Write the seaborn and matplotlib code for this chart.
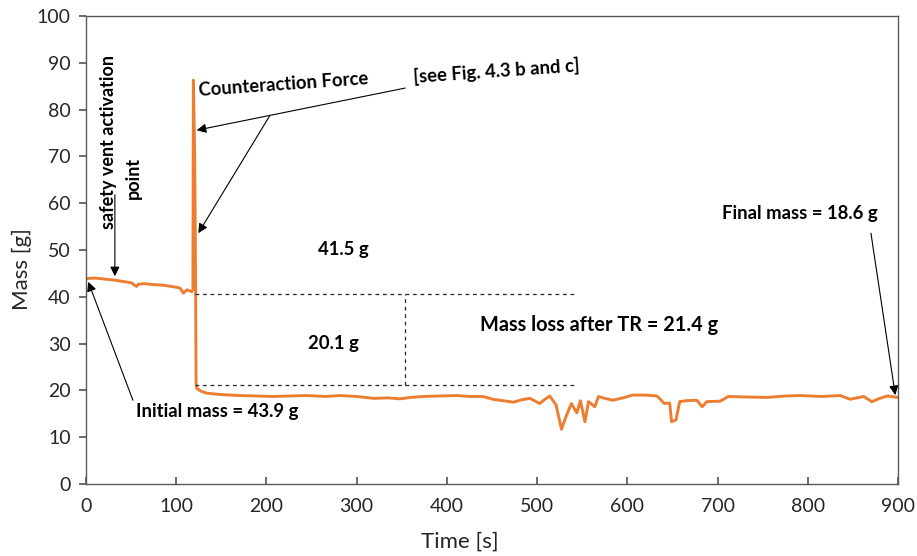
import matplotlib
matplotlib.use("Agg")
import matplotlib.pyplot as plt
import seaborn as sns
import pandas as pd

time_s = [0, 10, 20, 30, 40, 50, 56, 58, 65, 75, 85, 95, 104, 108, 112, 117, 118.5,
          119, 120.5, 121.5, 122, 122.7, 128, 134, 150, 171, 190, 208, 225, 245, 265,
          282, 300, 319, 335, 348, 360, 374, 390, 411, 425, 440, 451, 462, 474, 483,
          492, 503, 508, 514, 521, 527, 532, 538, 544, 548, 553, 557, 564, 568, 575,
          584, 595, 606, 620, 633, 641, 647, 649, 654, 658, 665, 677, 683, 688, 703,
          712, 730, 755, 775, 792, 815, 836, 847, 862, 871, 880, 888, 900]
mass_g = [43.9, 44.0, 43.8, 43.6, 43.3, 43.0, 42.2, 42.7, 42.8, 42.6, 42.5, 42.2, 41.9,
          40.8, 41.5, 41.1, 41.5,
          86.3, 70.0, 42.0, 21.5, 20.4, 19.8, 19.4, 19.1, 18.9, 18.8, 18.7, 18.8, 18.9, 18.7,
          18.9, 18.7, 18.3, 18.4, 18.2, 18.5, 18.7, 18.8, 18.9, 18.7, 18.7, 18.1, 17.8, 17.5, 18.0,
          18.3, 17.2, 18.0, 18.8, 16.9, 11.7, 14.4, 17.2, 15.2, 17.8, 13.3, 17.6, 16.5, 18.7, 18.3,
          17.9, 18.4, 19.0, 19.0, 18.8, 17.2, 17.3, 13.3, 13.7, 17.6, 17.8, 17.9, 16.5, 17.6, 17.7,
          18.7, 18.6, 18.5, 18.8, 18.9, 18.7, 18.9, 18.1, 18.7, 17.6, 18.3, 18.8, 18.5]

df = pd.DataFrame({"Time [s]": time_s, "Mass [g]": mass_g})

sns.set_theme(style="white")
plt.rcParams['font.family'] = ['Lato', 'DejaVu Sans']

fig = plt.figure(figsize=(9.17, 5.56), dpi=100)
ax = fig.add_axes([86 / 917, 1 - 484 / 556, (898 - 86) / 917, (484 - 16) / 556])

sns.lineplot(data=df, x="Time [s]", y="Mass [g]", ax=ax, color="#ED7D31",
             linewidth=2.1, sort=False, estimator=None)

ax.set_xlim(0, 900)
ax.set_ylim(0, 100)
ax.set_xticks(range(0, 901, 100))
ax.set_yticks(range(0, 101, 10))
for s in ax.spines.values():
    s.set_color("#595959")
    s.set_linewidth(1.0)
ax.tick_params(axis="x", direction="in", length=5, color="#595959",
               labelsize=14, labelcolor="#262626", pad=10, bottom=True)
ax.tick_params(axis="y", direction="out", length=5, color="#595959",
               labelsize=14, labelcolor="#262626", pad=6, left=True)
ax.set_xlabel("Time [s]", fontsize=16, color="#262626")
ax.set_ylabel("Mass [g]", fontsize=16, color="#262626")
ax.xaxis.set_label_coords(0.46, -0.102)
ax.yaxis.set_label_coords(-0.066, 0.46)

# dashed reference lines
ax.plot([121, 542], [40.7, 40.7], ls=(0, (3, 3)), color="#262626", lw=0.9)
ax.plot([121, 544], [21.15, 21.15], ls=(0, (3, 3)), color="#262626", lw=0.9)
ax.plot([354, 354], [21.15, 40.7], ls=(0, (3, 3)), color="#262626", lw=0.9)

bold = dict(fontsize=13.3, fontweight="bold", color="black")
arrow = dict(arrowstyle="-|>", color="black", lw=0.8, mutation_scale=14, shrinkA=0, shrinkB=0)

ax.text(285, 50, "41.5 g", ha="center", va="center", **bold)
ax.text(274, 30.1, "20.1 g", ha="center", va="center", **bold)
ax.text(569, 34, "Mass loss after TR = 21.4 g", ha="center", va="center",
        fontsize=14.3, fontweight="bold", color="black")
ax.text(791, 57.9, "Final mass = 18.6 g", ha="center", va="center", **bold)
ax.text(219, 85.3, "Counteraction Force", ha="center", va="center", rotation=4, **bold)
ax.text(455, 88.3, "[see Fig. 4.3 b and c]", ha="center", va="center", rotation=4, **bold)
ax.text(24.4, 73.1, "safety vent activation", ha="center", va="center",
        rotation=90, fontsize=13, fontweight="bold", color="black")
ax.text(52, 65.4, "point", ha="center", va="center",
        rotation=90, fontsize=13, fontweight="bold", color="black")
ax.text(145, 15.4, "Initial mass = 43.9 g", ha="center", va="center", **bold)

ax.annotate("", xy=(32, 44.4), xytext=(32, 61.8), arrowprops=arrow)
ax.annotate("", xy=(2.5, 43.2), xytext=(52, 17.9), arrowprops=arrow)
ax.annotate("", xy=(122.7, 75.6), xytext=(353.7, 84.6), arrowprops=arrow)
ax.annotate("", xy=(124.5, 53.6), xytext=(204, 78.8), arrowprops=arrow)
ax.annotate("", xy=(897, 19.0), xytext=(870, 53.6), arrowprops=arrow)

fig.savefig("out.png", dpi=100)
